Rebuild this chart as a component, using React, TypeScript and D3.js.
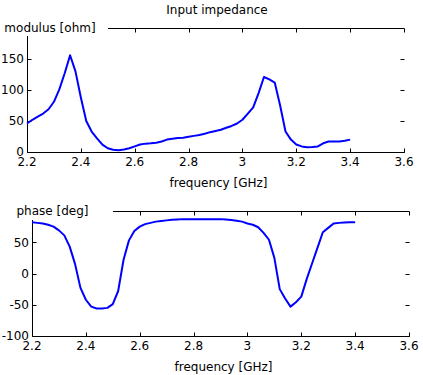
import React from 'react';
import * as d3 from 'd3';

const freq = [
  2.2, 2.22, 2.24, 2.26, 2.28, 2.3, 2.32, 2.34, 2.36, 2.38,
  2.4, 2.42, 2.44, 2.46, 2.48, 2.5, 2.52, 2.54, 2.56, 2.58,
  2.6, 2.62, 2.64, 2.66, 2.68, 2.7, 2.72, 2.74, 2.76, 2.78,
  2.8, 2.82, 2.84, 2.86, 2.88, 2.9, 2.92, 2.94, 2.96, 2.98,
  3.0, 3.02, 3.04, 3.06, 3.08, 3.1, 3.12, 3.14, 3.16, 3.18,
  3.2, 3.22, 3.24, 3.26, 3.28, 3.3, 3.32, 3.34, 3.36, 3.38, 3.4,
];

const modulus = [
  46, 52, 57, 62, 69, 81, 101, 127, 156, 130,
  88, 50, 33, 22, 12, 6, 3.5, 3, 4, 6,
  9, 12, 13.5, 14, 15, 17, 20, 21.5, 22.5, 23,
  24.5, 26, 27.5, 29.5, 32, 34, 36, 39, 42, 46,
  52, 62, 72, 95, 121, 117, 112, 75, 33, 20,
  12, 9, 7.5, 8, 9, 14, 17, 17, 17, 18, 20,
];

const phase = [
  82, 81, 80, 78, 75, 69, 61, 43, 15, -23,
  -42, -53, -56, -56, -55, -49, -28, 22, 53, 68,
  75, 79, 81, 83, 84, 85, 86, 86.5, 87, 87,
  87, 87, 87, 87, 87, 87, 86.5, 85.5, 84.5, 83,
  80, 78, 74, 65, 54, 25, -25, -40, -53, -46,
  -37, -9, 16, 41, 66, 73, 80, 81, 81.5, 82, 82,
];

const xTicks = [2.2, 2.4, 2.6, 2.8, 3.0, 3.2, 3.4, 3.6];
const xTickLabels = ['2.2', '2.4', '2.6', '2.8', '3', '3.2', '3.4', '3.6'];
const modTicks = [0, 50, 100, 150];
const phaseTicks = [-100, -50, 0, 50];

const FONT = '"DejaVu Sans", sans-serif';

type PanelProps = {
  left: number; right: number; top: number; bottom: number;
  yDomain: [number, number]; yTicks: number[]; values: number[];
  ylabel: string; coverW: number; coverTop: number; coverBottom: number;
};

function Panel(p: PanelProps) {
  const x = d3.scaleLinear().domain([2.2, 3.6]).range([p.left, p.right]);
  const y = d3.scaleLinear().domain(p.yDomain).range([p.bottom, p.top]);
  const line = d3.line<number>().x((_, i) => x(freq[i])).y((d) => y(d));
  const T = 4;
  const L = p.left + 0.5, R = p.right + 0.5, B = p.bottom + 0.5, Tp = p.top + 0.5;
  return (
    <g>
      <line x1={L} x2={L} y1={Tp} y2={B} stroke="#000" />
      <line x1={L} x2={R} y1={B} y2={B} stroke="#000" />
      <line x1={L} x2={R} y1={Tp} y2={Tp} stroke="#000" />
      {xTicks.map((t, i) => {
        const xx = Math.round(x(t)) + 0.5;
        return (
          <g key={'x' + i}>
            <line x1={xx} x2={xx} y1={B} y2={B - T} stroke="#000" />
            <line x1={xx} x2={xx} y1={Tp} y2={Tp + T} stroke="#000" />
            <text x={x(t)} y={p.bottom + 14} textAnchor="middle" fontSize={12} fontFamily={FONT}>{xTickLabels[i]}</text>
          </g>
        );
      })}
      {p.yTicks.map((t, i) => {
        const yy = Math.round(y(t)) + 0.5;
        return (
          <g key={'y' + i}>
            <line x1={L} x2={L + T} y1={yy} y2={yy} stroke="#000" />
            <line x1={R} x2={R - T} y1={yy} y2={yy} stroke="#000" />
            <text x={p.left - 3} y={y(t)} dy="0.36em" textAnchor="end" fontSize={12} fontFamily={FONT}>{t}</text>
          </g>
        );
      })}
      <path d={line(p.values) || ''} fill="none" stroke="#0000ff" strokeWidth={2} strokeLinejoin="round" />
      <rect x={0} y={p.coverTop} width={p.coverW} height={p.coverBottom - p.coverTop} fill="#fff" />
      <text x={(p.coverW) / 2 - 4} y={p.top + 4} textAnchor="middle" fontSize={12} fontFamily={FONT}>{p.ylabel}</text>
      <text x={(p.left + p.right) / 2 + 3} y={p.bottom + 35} textAnchor="middle" fontSize={12} fontFamily={FONT}>frequency [GHz]</text>
    </g>
  );
}

export default function App() {
  return (
    <svg width={423} height={375} style={{ position: 'absolute', left: 0, top: 0, background: '#fff' }}>
      <rect x={0} y={0} width={423} height={375} fill="#fff" />
      <text x={217} y={14} textAnchor="middle" fontSize={12} fontFamily={FONT}>Input impedance</text>
      <Panel left={27} right={404} top={28} bottom={152} yDomain={[0, 200]} yTicks={modTicks}
        values={modulus} ylabel="modulus [ohm]" coverW={108} coverTop={17} coverBottom={36} />
      <Panel left={32} right={409} top={211} bottom={336} yDomain={[-100, 100]} yTicks={phaseTicks}
        values={phase} ylabel="phase [deg]" coverW={113} coverTop={199} coverBottom={220} />
    </svg>
  );
}
